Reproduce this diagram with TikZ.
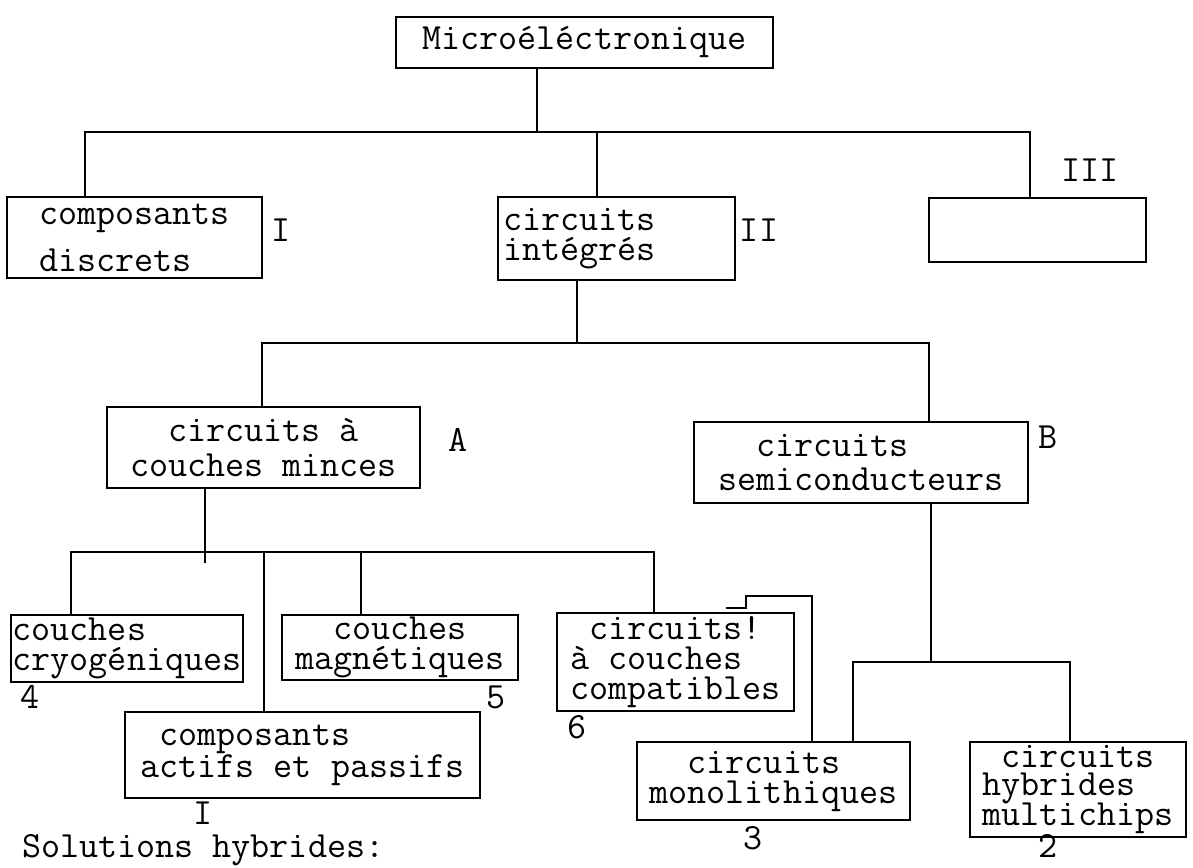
\documentclass[tikz,border=0pt]{standalone}
\usepackage{fontspec}
\usetikzlibrary{positioning, calc}
\newcommand{\machinefont}{\fontsize{37}{30}\selectfont\ttfamily}
\tikzset{
  block/.style={
    rectangle,
    draw,
    line width=1.8pt,
    align=left,
    inner sep=0pt,
    font=\machinefont
  },
  tag/.style={
    inner sep=0pt,
    font=\machinefont
  },
  link/.style={line width=2pt}
}

\begin{document}
\begin{tikzpicture}[x=1pt, y=-1pt]
  \useasboundingbox (0,0) rectangle (1193,867);

  \node[block, minimum width=377pt, minimum height=51pt] (micro) at (584.5,42.5) {Microéléctronique};
  \node[block, minimum width=255pt, minimum height=81pt] (discrets) at (134.5,237.5) {composants\\[15pt]discrets};
  \node[block, minimum width=237pt, minimum height=83pt, text width=227pt] (integres) at (616.5,238.5) {circuits\\intégrés};
  \node[block, minimum width=217pt, minimum height=64pt] (tier3) at (1037.5,230) {};
  \node[block, minimum width=313pt, minimum height=81pt, align=center] (minces) at (263.5,447.5) {circuits à\\[5pt]couches minces};
  \node[block, minimum width=334pt, minimum height=81pt] (semi) at (861,462.5) {\hphantom{xx}circuits\\[4pt]semiconducteurs};
  \node[block, minimum width=232pt, minimum height=67pt] (cryo) at (127,648.5) {couches\\cryogéniques};
  \node[block, minimum width=236pt, minimum height=65pt, align=center] (magn) at (400,647.5) {couches\\magnétiques};
  \node[block, minimum width=237pt, minimum height=98pt] (compat) at (675.5,662) {\hphantom{x}circuits!\\à couches\\compatibles};
  \node[block, minimum width=355pt, minimum height=86pt] (actifs) at (302.5,755) {\hphantom{x}composants\\actifs et passifs};
  \node[block, minimum width=273pt, minimum height=78pt] (mono) at (773.5,781) {\hphantom{xx}circuits\\monolithiques};
  \node[block, minimum width=216pt, minimum height=95pt] (hybr) at (1078,789.5) {\hphantom{x}circuits\\[-2pt]hybrides\\[-2pt]multichips};

  \node[tag] (numI) at (281,230) {I};
  \node[tag] (numII) at (759,230) {II};
  \node[tag] (numIII) at (1090,170) {III};
  \node[tag] (numA) at (458,440) {A};
  \node[tag] (numB) at (1048,437) {B};
  \node[tag] (num4) at (30,697) {4};
  \node[tag] (num5) at (496,697) {5};
  \node[tag] (num6) at (577,727) {6};
  \node[tag] (numIb) at (203,813) {I};
  \node[tag] (num3) at (753,838) {3};
  \node[tag] (num2) at (1048,846) {2};
  \node[tag, anchor=base west] (solutions) at (22,857) {Solutions hybrides:};

  \coordinate (hub1) at (537,132);
  \coordinate (hub2) at (577,343);
  \coordinate (hub3) at (205,552);
  \coordinate (hub4) at (931,662);

  \draw[link] (micro.south -| hub1) -- (hub1);
  \draw[link] ($(discrets.north)+(-50,0)$) |- (hub1) -| ($(tier3.north)+(-8,0)$);
  \draw[link] ($(integres.north)+(-19.5,0)$) -- ++(0,-65);
  \draw[link] (integres.south -| hub2) -- (hub2);
  \draw[link] ($(minces.north)+(-1.5,0)$) |- (hub2) -| ($(semi.north)+(68,0)$);
  \draw[link] (minces.south -| hub3) -- ++(0,74);
  \draw[link] ($(cryo.north)+(-56,0)$) |- (hub3) -| ($(compat.north)+(-21.5,0)$);
  \draw[link] ($(magn.north)+(-39,0)$) |- (hub3);
  \draw[link] ($(actifs.north)+(-38.5,0)$) |- (hub3);
  \draw[link] (semi.south -| hub4) -- (hub4);
  \draw[link] ($(mono.north)+(79.5,0)$) |- (hub4) -| ($(hybr.north)+(-8,0)$);
  \draw[link] ($(compat.north)+(50,-4)$) -- ++(20,0) -- ++(0,-12) -| ($(mono.north)+(38,0)$);
\end{tikzpicture}
\end{document}
